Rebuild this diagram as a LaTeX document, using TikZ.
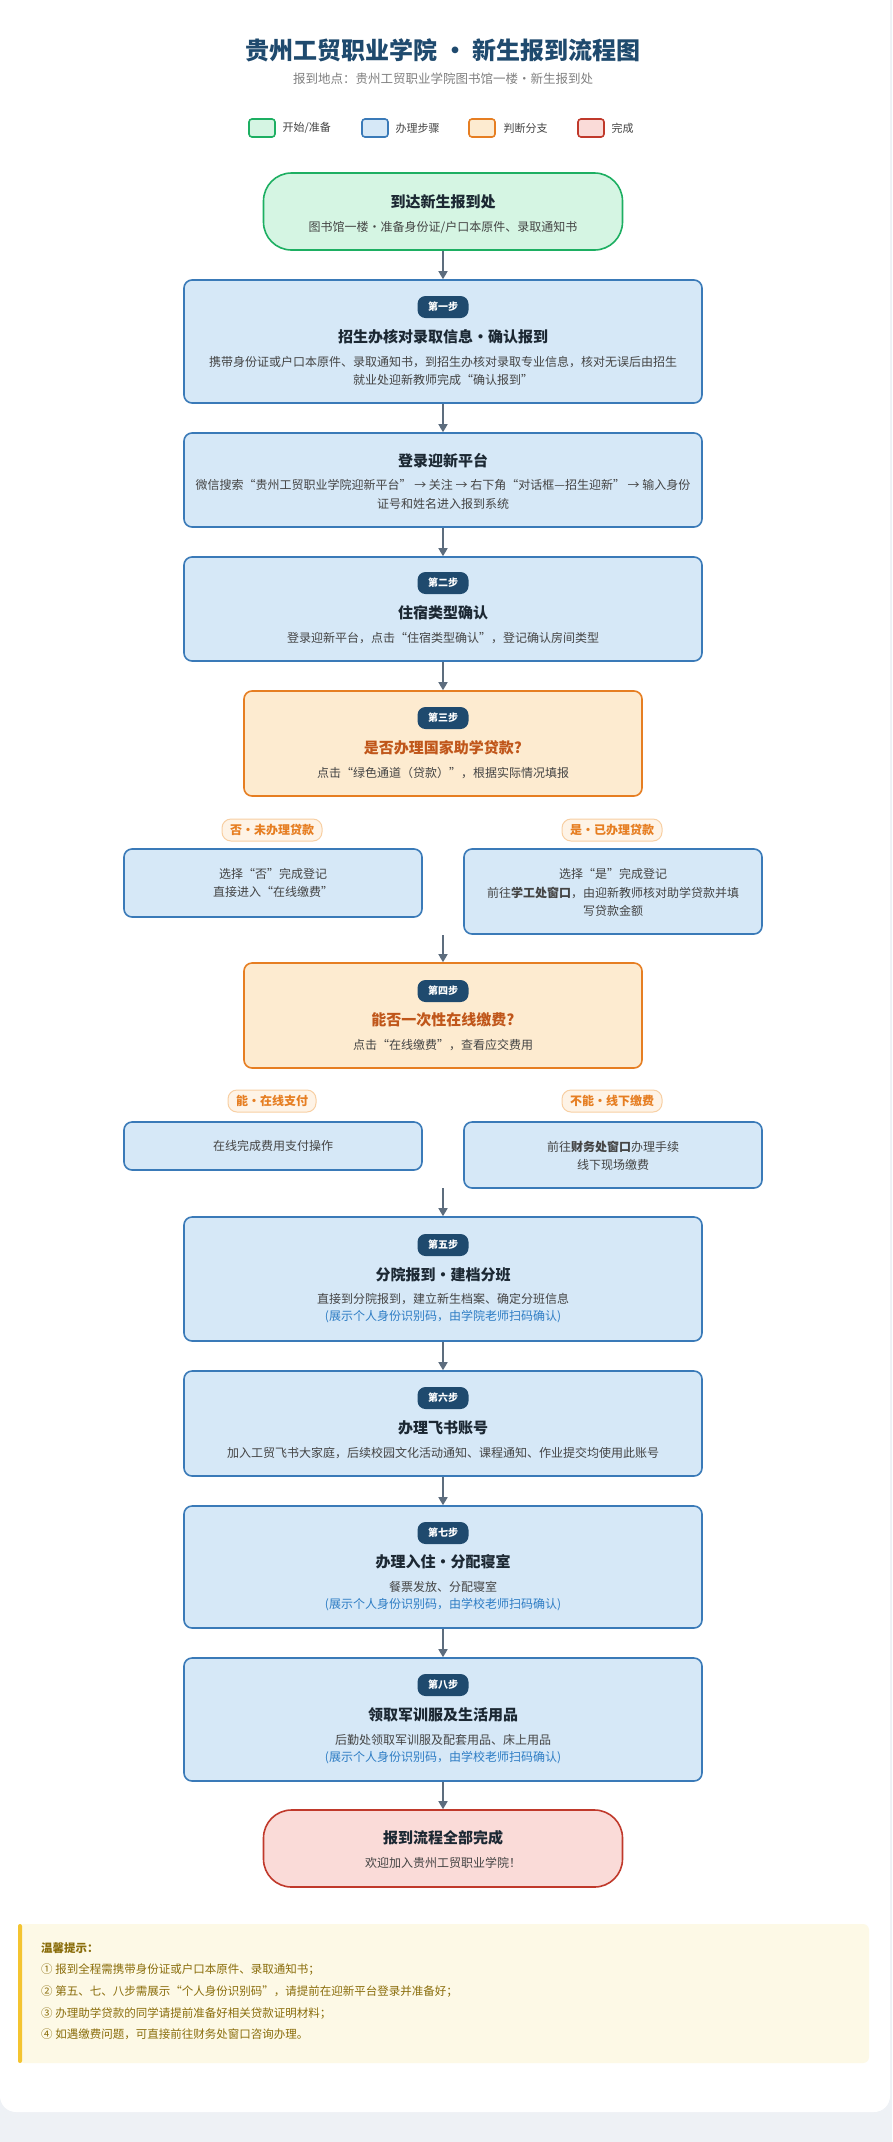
\documentclass[tikz,border=0pt]{standalone}
\usepackage{fontspec}
\setmainfont{Noto Sans CJK SC}
\usetikzlibrary{arrows.meta}
\definecolor{bg}{HTML}{EEF1F5}
\definecolor{navy}{HTML}{1F4A6E}
\definecolor{gF}{HTML}{D5F5E3}\definecolor{gD}{HTML}{1DAF62}
\definecolor{bF}{HTML}{D6E8F7}\definecolor{bD}{HTML}{3A7AB8}
\definecolor{oF}{HTML}{FDEBD0}\definecolor{oD}{HTML}{E67E22}
\definecolor{rF}{HTML}{FADBD8}\definecolor{rD}{HTML}{C0392B}
\definecolor{oT}{HTML}{C0561A}
\definecolor{noteT}{HTML}{2E7DC4}
\definecolor{txt}{HTML}{444444}
\definecolor{dark}{HTML}{1C2833}
\definecolor{arr}{HTML}{5D6D7E}
\definecolor{lF}{HTML}{FEF3E6}\definecolor{lD}{HTML}{F8CFA3}
\definecolor{tF}{HTML}{FDF9E6}\definecolor{tD}{HTML}{F4C430}\definecolor{tT}{HTML}{8A6D0B}
\tikzset{
 x=1pt,y=-1pt,
 box/.style={draw,line width=1.6pt,rounded corners=8pt,inner sep=0},
 stepbox/.style={box,fill=bF,draw=bD,minimum width=518pt},
 dec/.style={box,fill=oF,draw=oD,minimum width=398pt},
 br/.style={box,fill=bF,draw=bD,minimum width=298pt},
 pill/.style={box,rounded corners=28pt,minimum width=359pt,minimum height=77pt},
 badge/.style={fill=navy,text=white,rounded corners=8pt,minimum width=51pt,minimum height=22pt,inner sep=0,font=\fontsize{10}{12}\selectfont\bfseries},
 ttl/.style={text=dark,font=\fontsize{15}{18}\selectfont\bfseries},
 otl/.style={text=oT,font=\fontsize{15}{18}\selectfont\bfseries},
 dsc/.style={text=txt,font=\fontsize{12}{18.5}\selectfont,align=center},
 nte/.style={text=noteT,font=\fontsize{12}{14}\selectfont},
 lab/.style={fill=lF,draw=lD,line width=1pt,rounded corners=9pt,text=oD,minimum height=22pt,inner xsep=8pt,font=\fontsize{12}{14}\selectfont\bfseries},
 leg/.style={draw,line width=1.6pt,rounded corners=3pt,minimum width=26pt,minimum height=18pt,inner sep=0},
 legt/.style={anchor=west,text=txt,font=\fontsize{11}{13}\selectfont},
 ar/.style={draw=arr,line width=1.5pt,-{Triangle[width=9pt,length=8pt]}},
}
\begin{document}
\begin{tikzpicture}
\useasboundingbox (0,0) rectangle (892,2142);
\fill[bg] (0,0) rectangle (892,2142);
\fill[white,rounded corners=16pt] (0,-30) rectangle (890,2112);
% title
\node[text=navy,font=\fontsize{24}{28}\selectfont\bfseries] (title) at (443,50) {贵州工贸职业学院 · 新生报到流程图};
\node[text=gray,font=\fontsize{12.5}{15}\selectfont] (sub) at (443,79) {报到地点：贵州工贸职业学院图书馆一楼·新生报到处};
% legend
\node[leg,fill=gF,draw=gD] (l1) at (262,128) {}; \node[legt] (l1t) at (279,128) {开始/准备};
\node[leg,fill=bF,draw=bD] (l2) at (375,128) {}; \node[legt] (l2t) at (392,128) {办理步骤};
\node[leg,fill=oF,draw=oD] (l3) at (482,128) {}; \node[legt] (l3t) at (500,128) {判断分支};
\node[leg,fill=rF,draw=rD] (l4) at (591,128) {}; \node[legt] (l4t) at (608,128) {完成};
% start
\node[pill,fill=gF,draw=gD] (start) at (443,211.5) {};
\node[ttl] (startt) at (443,202) {到达新生报到处};
\node[dsc] (startd) at (443,227) {图书馆一楼·准备身份证/户口本原件、录取通知书};
% step1
\node[stepbox,minimum height=123pt] (s1) at (443,341.5) {};
\node[badge] (b1) at (443,307) {第一步};
\node[ttl] (t1) at (443,337) {招生办核对录取信息·确认报到};
\node[dsc] (d1) at (443,371) {携带身份证或户口本原件、录取通知书，到招生办核对录取专业信息，核对无误后由招生\\就业处迎新教师完成“确认报到”};
% login
\node[stepbox,minimum height=94pt] (lg) at (443,480) {};
\node[ttl] (tl) at (443,461) {登录迎新平台};
\node[dsc] (dl) at (443,494.5) {微信搜索“贵州工贸职业学院迎新平台” → 关注 → 右下角“对话框—招生迎新” → 输入身份\\证号和姓名进入报到系统};
% step2
\node[stepbox,minimum height=104pt] (s2) at (443,609) {};
\node[badge] (b2) at (443,583) {第二步};
\node[ttl] (t2) at (443,613) {住宿类型确认};
\node[dsc] (d2) at (443,638) {登录迎新平台，点击“住宿类型确认”，登记确认房间类型};
% step3
\node[dec,minimum height=105pt] (s3) at (443,743.5) {};
\node[badge] (b3) at (443,718) {第三步};
\node[otl] (t3) at (443,748) {是否办理国家助学贷款?};
\node[dsc] (d3) at (443,773) {点击“绿色通道（贷款）”，根据实际情况填报};
% branch 1
\node[lab] (la) at (272,830) {否·未办理贷款};
\node[lab] (lb) at (612,830) {是·已办理贷款};
\node[br,minimum height=68pt] (na) at (273,883) {};
\node[dsc] (nat) at (273,883) {选择“否”完成登记\\直接进入“在线缴费”};
\node[br,minimum height=85pt] (nb) at (613,891.5) {};
\node[dsc] (nbt) at (613,892.5) {选择“是”完成登记\\前往\textbf{学工处窗口}，由迎新教师核对助学贷款并填\\写贷款金额};
\coordinate (j1) at (443,935);
% step4
\node[dec,minimum height=105pt] (s4) at (443,1015.5) {};
\node[badge] (b4) at (443,991) {第四步};
\node[otl] (t4) at (443,1020) {能否一次性在线缴费?};
\node[dsc] (d4) at (443,1045) {点击“在线缴费”，查看应交费用};
% branch 2
\node[lab] (lc) at (272,1101) {能·在线支付};
\node[lab] (ld) at (612,1101) {不能·线下缴费};
\node[br,minimum height=48pt] (nc) at (273,1146) {};
\node[dsc] (nct) at (273,1146) {在线完成费用支付操作};
\node[br,minimum height=66pt] (nd) at (613,1155) {};
\node[dsc] (ndt) at (613,1156) {前往\textbf{财务处窗口}办理手续\\线下现场缴费};
\coordinate (j2) at (443,1188);
% step5
\node[stepbox,minimum height=124pt] (s5) at (443,1279) {};
\node[badge] (b5) at (443,1245) {第五步};
\node[ttl] (t5) at (443,1275) {分院报到·建档分班};
\node[dsc] (d5) at (443,1299) {直接到分院报到，建立新生档案、确定分班信息};
\node[nte] (n5) at (443,1317) {(展示个人身份识别码，由学院老师扫码确认)};
% step6
\node[stepbox,minimum height=105pt] (s6) at (443,1423.5) {};
\node[badge] (b6) at (443,1398) {第六步};
\node[ttl] (t6) at (443,1428) {办理飞书账号};
\node[dsc] (d6) at (443,1453) {加入工贸飞书大家庭，后续校园文化活动通知、课程通知、作业提交均使用此账号};
% step7
\node[stepbox,minimum height=122pt] (s7) at (443,1567) {};
\node[badge] (b7) at (443,1533) {第七步};
\node[ttl] (t7) at (443,1562) {办理入住·分配寝室};
\node[dsc] (d7) at (443,1587) {餐票发放、分配寝室};
\node[nte] (n7) at (443,1605) {(展示个人身份识别码，由学校老师扫码确认)};
% step8
\node[stepbox,minimum height=123pt] (s8) at (443,1719.5) {};
\node[badge] (b8) at (443,1685) {第八步};
\node[ttl] (t8) at (443,1715) {领取军训服及生活用品};
\node[dsc] (d8) at (443,1740) {后勤处领取军训服及配套用品、床上用品};
\node[nte] (n8) at (443,1758) {(展示个人身份识别码，由学校老师扫码确认)};
% final
\node[pill,fill=rF,draw=rD] (fin) at (443,1848.5) {};
\node[ttl] (tf) at (443,1838) {报到流程全部完成};
\node[dsc] (df) at (443,1863) {欢迎加入贵州工贸职业学院！};
% arrows
\draw[ar] (start) -- (s1);
\draw[ar] (s1) -- (lg);
\draw[ar] (lg) -- (s2);
\draw[ar] (s2) -- (s3);
\draw[ar] (j1) -- (s4);
\draw[ar] (j2) -- (s5);
\draw[ar] (s5) -- (s6);
\draw[ar] (s6) -- (s7);
\draw[ar] (s7) -- (s8);
\draw[ar] (s8) -- (fin);
% tips
\fill[tF,rounded corners=6pt] (18,1924) rectangle (869,2063);
\fill[tD,rounded corners=2pt] (18,1924) rectangle (22,2063);
\node[anchor=north west,text=tT,align=left,inner sep=0,font=\fontsize{11.5}{21.7}\selectfont] (tips) at (41,1942) {\textbf{温馨提示：}\\① 报到全程需携带身份证或户口本原件、录取通知书；\\② 第五、七、八步需展示“个人身份识别码”，请提前在迎新平台登录并准备好；\\③ 办理助学贷款的同学请提前准备好相关贷款证明材料；\\④ 如遇缴费问题，可直接前往财务处窗口咨询办理。};
\end{tikzpicture}
\end{document}
